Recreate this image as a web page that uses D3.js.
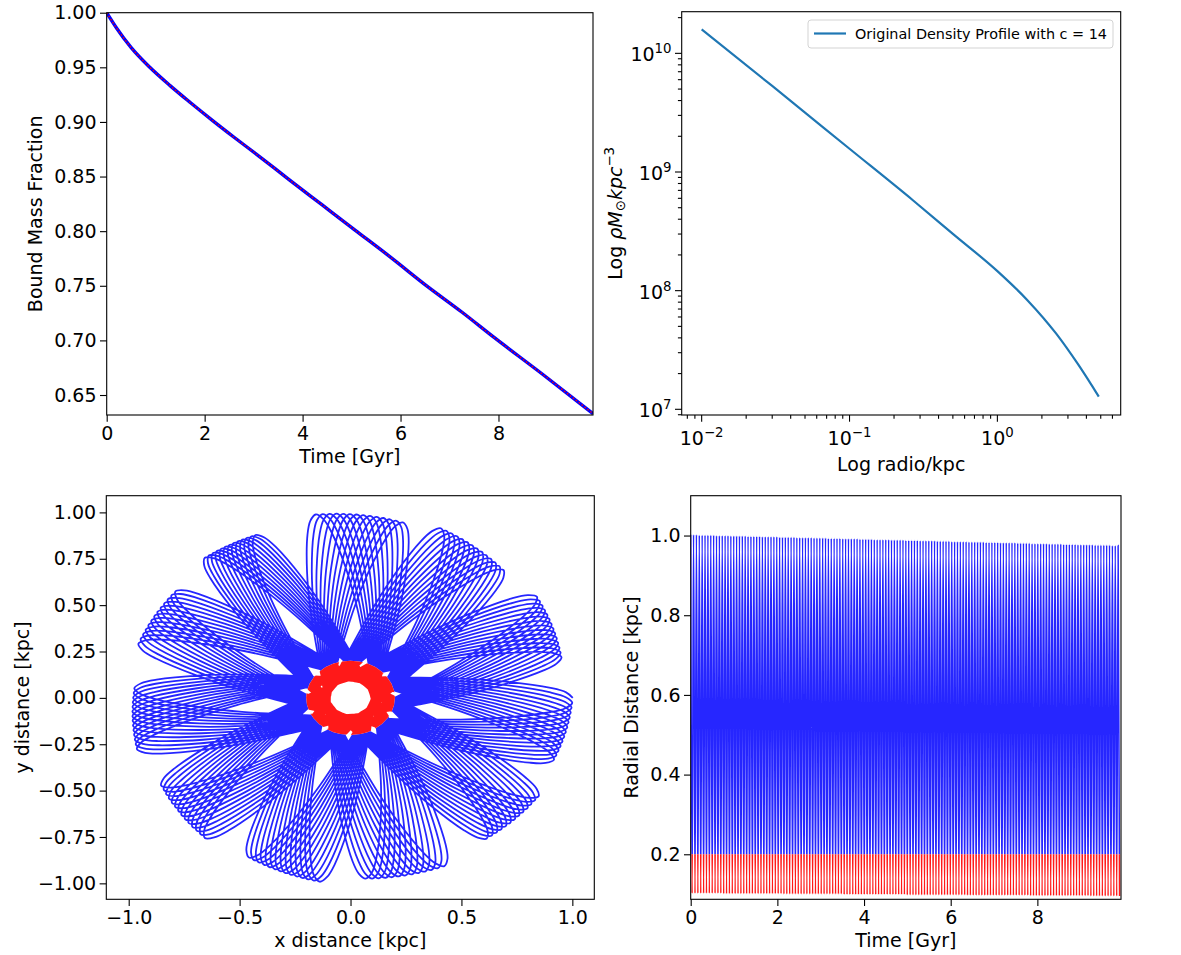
<!DOCTYPE html>
<html>
<head>
<meta charset="utf-8">
<script src="https://cdn.jsdelivr.net/npm/d3@7"></script>
<style>
body { margin: 0; background: #fff; }
svg { font-family: "DejaVu Sans", sans-serif; }
</style>
</head>
<body>
<svg id="fig" width="1181" height="955"></svg>
<script>
// ---------- data ----------

// top left: bound mass fraction vs time
var massTime = [0, 0.2, 0.5, 0.88, 1.3, 1.7, 2.17, 2.6, 3.1, 3.73, 4.4, 5.07, 5.8, 6.56, 7.25, 7.93, 8.9, 9.93];
var massFrac = [1.000, 0.986, 0.968, 0.950, 0.933, 0.918, 0.901, 0.886, 0.869, 0.847, 0.824, 0.801, 0.776, 0.749, 0.726, 0.702, 0.669, 0.633];

// top right: density profile
var radius = [0.01, 0.03, 0.1, 0.267, 0.5, 1.0, 1.59, 2.5, 3.5, 4.85];
var density = [1.59e10, 5.31e9, 1.57e9, 5.81e8, 3.01e8, 1.46e8, 8.36e7, 4.34e7, 2.41e7, 1.28e7];
var legendLabel = "Original Density Profile with c = 14";

// orbit: one apocentre and one pericentre per radial period (kpc)
var radialPeriod = 0.0662; // Gyr
var apoR = [
  1.002,1.002,1.002,1.001,1.001,1.001,1.001,1.001,1.001,1.000,
  1.000,1.000,1.000,1.000,0.999,0.999,0.999,0.999,0.999,0.999,
  0.998,0.998,0.998,0.998,0.998,0.997,0.997,0.997,0.997,0.997,
  0.997,0.996,0.996,0.996,0.996,0.996,0.996,0.995,0.995,0.995,
  0.995,0.995,0.995,0.994,0.994,0.994,0.994,0.994,0.993,0.993,
  0.993,0.993,0.993,0.992,0.992,0.992,0.992,0.992,0.992,0.991,
  0.991,0.991,0.991,0.991,0.990,0.990,0.990,0.990,0.990,0.990,
  0.989,0.989,0.989,0.989,0.989,0.988,0.988,0.988,0.988,0.988,
  0.987,0.987,0.987,0.987,0.987,0.987,0.986,0.986,0.986,0.986,
  0.986,0.985,0.985,0.985,0.985,0.985,0.985,0.984,0.984,0.984,
  0.984,0.984,0.984,0.983,0.983,0.983,0.983,0.983,0.982,0.982,
  0.982,0.982,0.982,0.982,0.981,0.981,0.981,0.981,0.981,0.980,
  0.980,0.980,0.980,0.980,0.980,0.979,0.979,0.979,0.979,0.979,
  0.978,0.978,0.978,0.978,0.978,0.977,0.977,0.977,0.977,0.977,
  0.977,0.976,0.976,0.976,0.976,0.976,0.976,0.975,0.975,0.975];
var periR = [
  0.102,0.102,0.102,0.102,0.102,0.102,0.102,0.102,0.102,0.102,
  0.102,0.101,0.101,0.101,0.101,0.101,0.101,0.101,0.101,0.101,
  0.101,0.101,0.101,0.101,0.101,0.101,0.101,0.101,0.101,0.101,
  0.101,0.101,0.100,0.100,0.100,0.100,0.100,0.100,0.100,0.100,
  0.100,0.100,0.100,0.100,0.100,0.100,0.100,0.100,0.100,0.100,
  0.100,0.100,0.100,0.099,0.099,0.099,0.099,0.099,0.099,0.099,
  0.099,0.099,0.099,0.099,0.099,0.099,0.099,0.099,0.099,0.099,
  0.099,0.099,0.099,0.099,0.099,0.098,0.098,0.098,0.098,0.098,
  0.098,0.098,0.098,0.098,0.098,0.098,0.098,0.098,0.098,0.098,
  0.098,0.098,0.098,0.098,0.098,0.098,0.097,0.097,0.097,0.097,
  0.097,0.097,0.097,0.097,0.097,0.097,0.097,0.097,0.097,0.097,
  0.097,0.097,0.097,0.097,0.097,0.097,0.097,0.097,0.096,0.096,
  0.096,0.096,0.096,0.096,0.096,0.096,0.096,0.096,0.096,0.096,
  0.096,0.096,0.096,0.096,0.096,0.096,0.096,0.096,0.096,0.095,
  0.095,0.095,0.095,0.095,0.095,0.095,0.095,0.095,0.095,0.095];

// petal groups of the rosette: apocentre angle (deg) of first and last loop in each group
var groupFirst = [0, 33, 66, 99, 131, 163, 196, 229, 262, 295, 328];
var groupLast  = [-20, 13, 45, 76, 116, 144, 177, 209, 242, 274, 309];

// tick values
var tlXTicks = [0, 2, 4, 6, 8];
var tlYTicks = [0.65, 0.70, 0.75, 0.80, 0.85, 0.90, 0.95, 1.00];
var trXExp = [-2, -1, 0];
var trYExp = [7, 8, 9, 10];
var blXTicks = [-1, -0.5, 0, 0.5, 1];
var blYTicks = [-1, -0.75, -0.5, -0.25, 0, 0.25, 0.5, 0.75, 1];
var brXTicks = [0, 2, 4, 6, 8];
var brYTicks = [0.2, 0.4, 0.6, 0.8, 1.0];

// ---------- drawing ----------
var FONT = "DejaVu Sans, sans-serif";
var svg = d3.select("#fig");
var defs = svg.append("defs");

function frame(x, y) {
  var xr = x.range(), yr = y.range();
  svg.append("rect")
    .attr("x", xr[0]).attr("y", yr[1])
    .attr("width", xr[1] - xr[0]).attr("height", yr[0] - yr[1])
    .attr("fill", "none").attr("stroke", "#000").attr("stroke-width", 1.1);
}

function styleAxis(g) {
  g.select(".domain").remove();
  g.attr("font-size", 19).attr("font-family", FONT).attr("color", "#000");
  g.selectAll("line").attr("stroke-width", 1.1);
}

function linearTicks(x, y, xt, yt, xf, yf) {
  var gx = svg.append("g").attr("transform", "translate(0," + y.range()[0] + ")")
    .call(d3.axisBottom(x).tickValues(xt).tickFormat(xf).tickSizeInner(6.7).tickSizeOuter(0).tickPadding(5));
  var gy = svg.append("g").attr("transform", "translate(" + x.range()[0] + ",0)")
    .call(d3.axisLeft(y).tickValues(yt).tickFormat(yf).tickSizeInner(6.7).tickSizeOuter(0).tickPadding(3.5));
  styleAxis(gx); styleAxis(gy);
}

function label(txt, x, y, rotate) {
  return svg.append("text")
    .attr("transform", "translate(" + x + "," + y + ")" + (rotate ? " rotate(-90)" : ""))
    .attr("text-anchor", "middle").attr("font-size", 19).attr("fill", "#000")
    .text(txt);
}

function clipRect(id, x0, y0, x1, y1) {
  defs.append("clipPath").attr("id", id).append("rect")
    .attr("x", x0).attr("y", y0).attr("width", x1 - x0).attr("height", y1 - y0);
}

// ===== top left: bound mass fraction =====
var tlX = d3.scaleLinear().domain([0, 9.93]).range([106.7, 593]);
var tlY = d3.scaleLinear().domain([0.6317, 1.0]).range([415, 12.7]);
clipRect("tlClip", 106.7, 12.7, 593, 415);

var massLine = d3.line()
  .x(function(d, i) { return tlX(massTime[i]); })
  .y(function(d) { return tlY(d); })
  .curve(d3.curveMonotoneX);

var tl = svg.append("g").attr("clip-path", "url(#tlClip)");
tl.append("path").datum(massFrac).attr("d", massLine)
  .attr("fill", "none").attr("stroke", "#0000ff").attr("stroke-width", 3.4);
tl.append("path").datum(massFrac).attr("d", massLine)
  .attr("fill", "none").attr("stroke", "#ff0000").attr("stroke-width", 1.4)
  .attr("stroke-dasharray", "1.5 2.2");

frame(tlX, tlY);
linearTicks(tlX, tlY, tlXTicks, tlYTicks, d3.format("d"), d3.format(".2f"));
label("Time [Gyr]", (106.7 + 593) / 2, 463);
label("Bound Mass Fraction", 42, (12.7 + 415) / 2, true);

// ===== top right: density profile (log-log) =====
var trX = d3.scaleLog().domain([Math.pow(10, -2.135), Math.pow(10, 0.834)]).range([681.7, 1120.7]);
var trY = d3.scaleLog().domain([Math.pow(10, 6.952), Math.pow(10, 10.351)]).range([415, 11.7]);
clipRect("trClip", 681.7, 11.7, 1120.7, 415);

var densLine = d3.line()
  .x(function(d, i) { return trX(radius[i]); })
  .y(function(d) { return trY(d); })
  .curve(d3.curveMonotoneX);

svg.append("g").attr("clip-path", "url(#trClip)")
  .append("path").datum(density).attr("d", densLine)
  .attr("fill", "none").attr("stroke", "#1f77b4").attr("stroke-width", 2.2);

frame(trX, trY);

function expText(e) { return e < 0 ? "\u2212" + (-e) : String(e); }

var trAxes = svg.append("g").attr("stroke", "#000").attr("stroke-width", 1.1);
// minor ticks
[-3, -2, -1, 0].forEach(function(k) {
  d3.range(2, 10).forEach(function(m) {
    var v = m * Math.pow(10, k);
    var dx = trX.domain();
    if (v > dx[0] && v < dx[1]) {
      trAxes.append("line").attr("x1", trX(v)).attr("x2", trX(v))
        .attr("y1", 415).attr("y2", 418.8);
    }
  });
});
[6, 7, 8, 9, 10].forEach(function(k) {
  d3.range(2, 10).forEach(function(m) {
    var v = m * Math.pow(10, k);
    var dy = trY.domain();
    if (v > dy[0] && v < dy[1]) {
      trAxes.append("line").attr("x1", 681.7).attr("x2", 677.9)
        .attr("y1", trY(v)).attr("y2", trY(v));
    }
  });
});
// major ticks + labels
trXExp.forEach(function(e) {
  var px = trX(Math.pow(10, e));
  trAxes.append("line").attr("x1", px).attr("x2", px).attr("y1", 415).attr("y2", 421.7);
  var t = svg.append("text").attr("x", px).attr("y", 445.3)
    .attr("text-anchor", "middle").attr("font-size", 19).attr("fill", "#000");
  t.append("tspan").text("10");
  t.append("tspan").attr("dy", -8).attr("font-size", 13.3).text(expText(e));
});
trYExp.forEach(function(e) {
  var py = trY(Math.pow(10, e));
  trAxes.append("line").attr("x1", 681.7).attr("x2", 675).attr("y1", py).attr("y2", py);
  var t = svg.append("text").attr("x", 671.5).attr("y", py + 8)
    .attr("text-anchor", "end").attr("font-size", 19).attr("fill", "#000");
  t.append("tspan").text("10");
  t.append("tspan").attr("dy", -8).attr("font-size", 13.3).text(expText(e));
});

label("Log radio/kpc", (681.7 + 1120.7) / 2, 470.5);
var yl = svg.append("text")
  .attr("transform", "translate(622," + ((11.7 + 415) / 2) + ") rotate(-90)")
  .attr("text-anchor", "middle").attr("font-size", 19).attr("fill", "#000");
yl.append("tspan").text("Log ");
yl.append("tspan").attr("font-style", "italic").text("\u03c1M");
yl.append("tspan").attr("font-size", 13.3).attr("dy", 3).text("\u2299");
yl.append("tspan").attr("font-style", "italic").attr("dy", -3).text("kpc");
yl.append("tspan").attr("font-size", 13.3).attr("dy", -8).text("\u22123");

// legend
var lg = svg.append("g");
lg.append("rect").attr("x", 808).attr("y", 20).attr("width", 305).attr("height", 28)
  .attr("rx", 3).attr("fill", "#fff").attr("fill-opacity", 0.8)
  .attr("stroke", "#d3d3d3").attr("stroke-width", 1);
lg.append("line").attr("x1", 814).attr("x2", 846).attr("y1", 33.5).attr("y2", 33.5)
  .attr("stroke", "#1f77b4").attr("stroke-width", 2.2);
lg.append("text").attr("x", 855).attr("y", 38.5).attr("font-size", 14.4).attr("fill", "#000")
  .text(legendLabel);

// ===== bottom left: rosette orbit =====
var blX = d3.scaleLinear().domain([-1.101, 1.099]).range([106.3, 594.3]);
var blY = d3.scaleLinear().domain([-1.086, 1.090]).range([899.3, 495.7]);
clipRect("blClip", 106.3, 495.7, 594.3, 899.3);

// which petal group each loop falls in, and its apocentre angle
var nLoops = apoR.length;
function groupOf(n) { return (6 * n) % 11; }
var visits = d3.range(11).map(function(g) {
  return d3.range(nLoops).filter(function(n) { return groupOf(n) === g; }).length;
});
var apoAngle = apoR.map(function(_, n) {
  var g = groupOf(n), v = Math.floor(n / 11);
  return groupFirst[g] + (groupLast[g] - groupFirst[g]) * v / (visits[g] - 1);
});

// shape of one leg pericentre -> apocentre: [radial fraction, fraction of half-turn]
var legShape = [[0, 1], [0.0055, 0.80], [0.0164, 0.687], [0.0383, 0.537], [0.071, 0.41],
  [0.1257, 0.31], [0.235, 0.207], [0.4536, 0.12], [0.672, 0.0726], [0.8907, 0.0347],
  [0.967, 0.0179], [1, 0]];

function halfGap(a, b) { return ((((b - a) % 360) + 360) % 360) / 2; }
function polar(r, deg) { var a = deg * Math.PI / 180; return [r * Math.cos(a), r * Math.sin(a)]; }

var orbit = [];
for (var n = 0; n < nLoops; n++) {
  var th = apoAngle[n], ra = apoR[n], rp, h;
  if (n > 0) {
    rp = periR[n - 1];
    h = halfGap(apoAngle[n - 1], th);
    legShape.forEach(function(p, k) {
      if (k > 0) orbit.push(polar(rp + p[0] * (ra - rp), th - p[1] * h));
    });
  } else {
    orbit.push(polar(ra, th));
  }
  rp = periR[n];
  h = n < nLoops - 1 ? halfGap(th, apoAngle[n + 1]) : 98;
  for (var k = legShape.length - 2; k >= 0; k--) {
    orbit.push(polar(rp + legShape[k][0] * (ra - rp), th + legShape[k][1] * h));
  }
}

var orbitLine = d3.line()
  .x(function(d) { return blX(d[0]); })
  .y(function(d) { return blY(d[1]); })
  .curve(d3.curveCatmullRom.alpha(0.5));

var cx0 = blX(0), cy0 = blY(0);
var rx02 = blX(0.2) - blX(0), ry02 = blY(0) - blY(0.2);
var mask = defs.append("mask").attr("id", "outerMask").attr("maskUnits", "userSpaceOnUse")
  .attr("x", 0).attr("y", 0).attr("width", 1181).attr("height", 955);
mask.append("rect").attr("width", 1181).attr("height", 955).attr("fill", "#fff");
mask.append("ellipse").attr("cx", cx0).attr("cy", cy0).attr("rx", rx02).attr("ry", ry02).attr("fill", "#000");
defs.append("clipPath").attr("id", "innerClip").append("ellipse")
  .attr("cx", cx0).attr("cy", cy0).attr("rx", rx02).attr("ry", ry02);

var bl = svg.append("g").attr("clip-path", "url(#blClip)");
bl.append("g").attr("mask", "url(#outerMask)")
  .append("path").datum(orbit).attr("d", orbitLine)
  .attr("fill", "none").attr("stroke", "#0000ff").attr("stroke-width", 1.8)
  .attr("stroke-opacity", 0.85);
bl.append("g").attr("clip-path", "url(#innerClip)")
  .append("path").datum(orbit).attr("d", orbitLine)
  .attr("fill", "none").attr("stroke", "#ff0000").attr("stroke-width", 3.2)
  .attr("stroke-opacity", 0.9);

frame(blX, blY);
linearTicks(blX, blY, blXTicks, blYTicks, d3.format(".1f"), d3.format(".2f"));
label("x distance [kpc]", (106.3 + 594.3) / 2, 947);
label("y distance [kpc]", 29, (495.7 + 899.3) / 2, true);

// ===== bottom right: radial distance vs time =====
var brX = d3.scaleLinear().domain([0, 9.93]).range([690.7, 1121]);
var brY = d3.scaleLinear().domain([0.087, 1.1]).range([899.3, 495.7]);
var y02 = brY(0.2);
clipRect("brBlue", 690.7, 495.7, 1121, y02);
clipRect("brRed", 690.7, y02, 1121, 899.3);

var rt = [];
apoR.forEach(function(a, i) {
  rt.push([i * radialPeriod, a]);
  rt.push([(i + 0.5) * radialPeriod, periR[i]]);
});
var rtLine = d3.line()
  .x(function(d) { return brX(d[0]); })
  .y(function(d) { return brY(d[1]); })
  .curve(d3.curveMonotoneX);

svg.append("g").attr("clip-path", "url(#brBlue)")
  .append("path").datum(rt).attr("d", rtLine)
  .attr("fill", "none").attr("stroke", "#0000ff").attr("stroke-width", 1.5)
  .attr("stroke-opacity", 0.85);
svg.append("g").attr("clip-path", "url(#brRed)")
  .append("path").datum(rt).attr("d", rtLine)
  .attr("fill", "none").attr("stroke", "#ff0000").attr("stroke-width", 1.5)
  .attr("stroke-opacity", 0.9);

frame(brX, brY);
linearTicks(brX, brY, brXTicks, brYTicks, d3.format("d"), d3.format(".1f"));
label("Time [Gyr]", (690.7 + 1121) / 2, 947);
label("Radial Distance [kpc]", 638, (495.7 + 899.3) / 2, true);
</script>
</body>
</html>
